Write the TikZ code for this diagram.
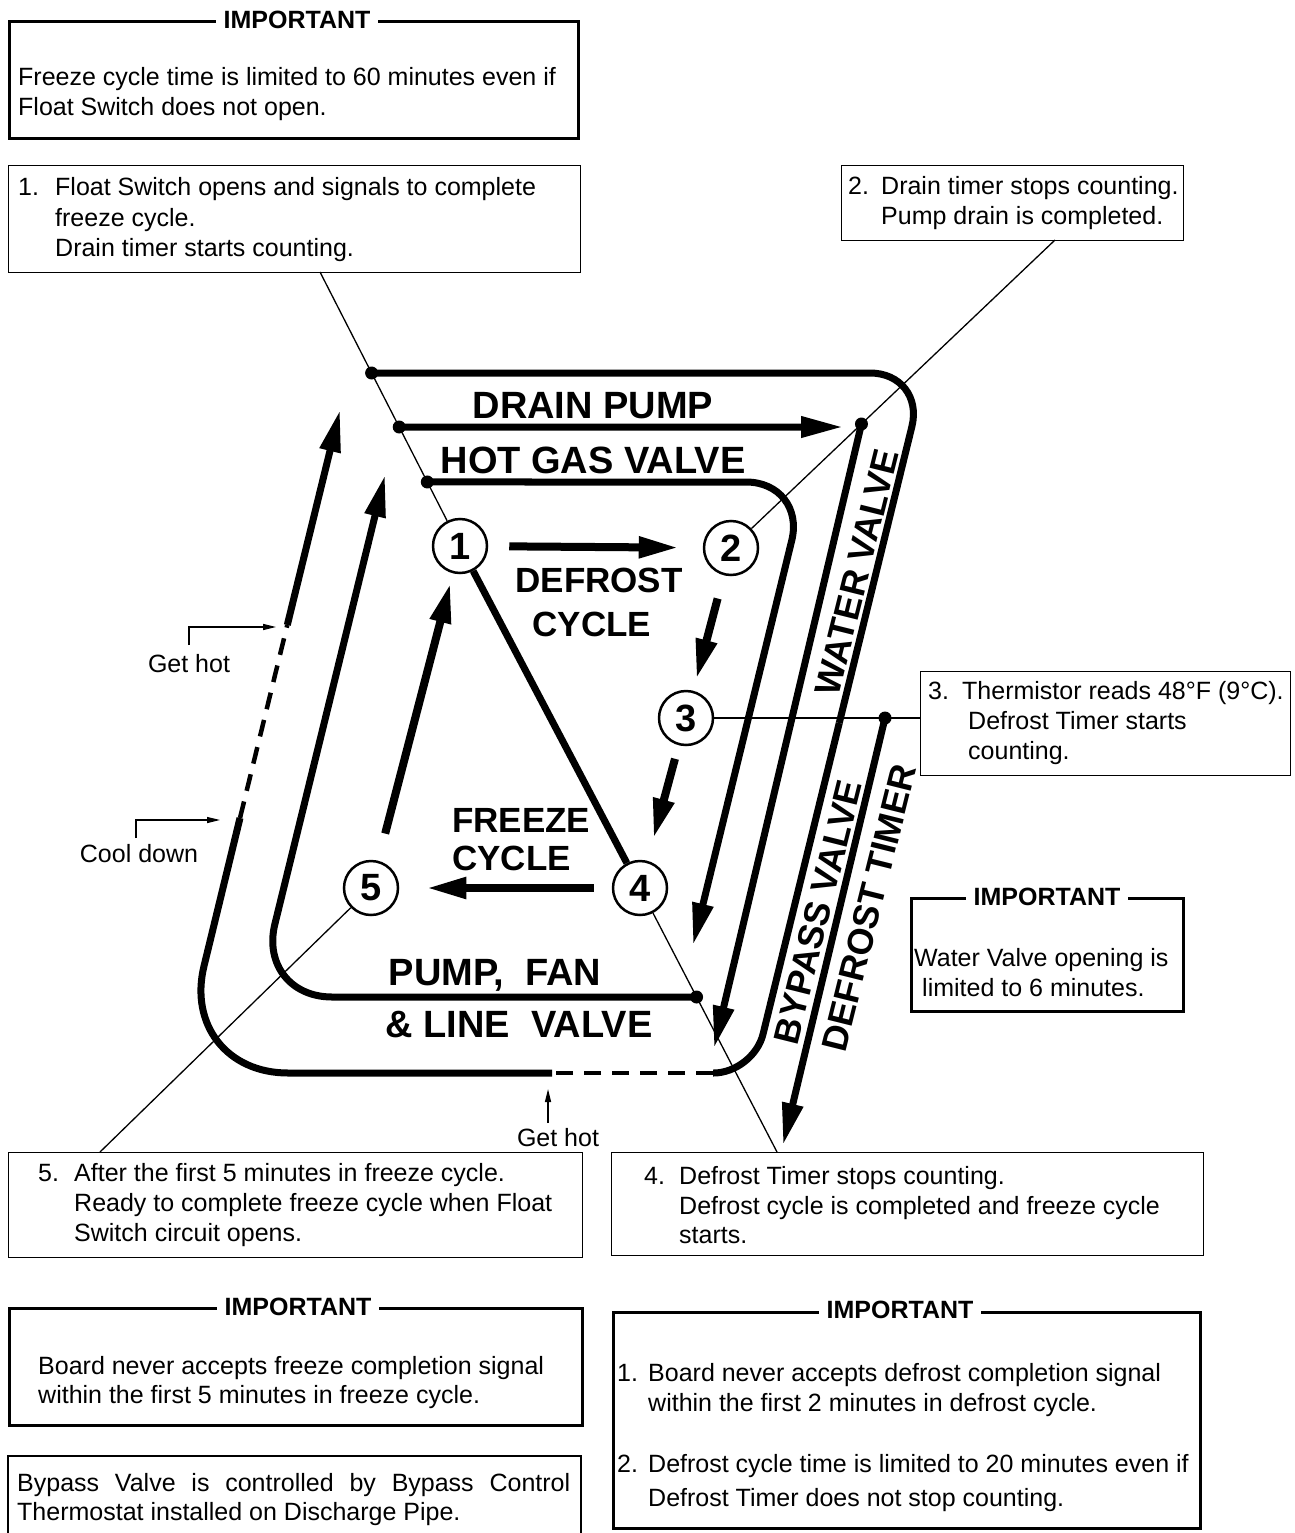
\documentclass[tikz,border=0pt]{standalone}
\usepackage{fontspec}
\setmainfont{Liberation Sans}
\usetikzlibrary{arrows.meta,calc}
\newcommand{\myline}[4]{\node[txt] (#1) at (#2,#3) {#4};}
\tikzset{
  txt/.style={font=\fontsize{25}{30}\selectfont, inner sep=0pt, anchor=base west},
  lbl/.style={font=\fontsize{38}{40}\selectfont\bfseries, inner sep=0pt},
  clbl/.style={font=\fontsize{35}{40}\selectfont\bfseries, inner sep=0pt},
  rlbl/.style={font=\fontsize{36}{40}\selectfont\bfseries, inner sep=0pt, rotate=76},
  imptitle/.style={font=\fontsize{25}{30}\selectfont\bfseries, fill=white, inner xsep=8pt, inner ysep=3pt},
  impbox/.style={draw, line width=3pt, inner sep=0pt, anchor=north west},
  thinbox/.style={draw, line width=1.4pt, inner sep=0pt, anchor=north west},
  num/.style={circle, draw, fill=white, line width=2.5pt, minimum size=54pt, inner sep=0pt, font=\fontsize{38}{38}\selectfont\bfseries},
  bigarrow/.style={line width=8pt, -{Triangle[length=40pt,width=20pt]}},
  looparrow/.style={line width=7pt, -{Triangle[length=42pt,width=20pt]}},
  loopline/.style={line width=7pt},
  dashedloop/.style={line width=4.5pt, dash pattern=on 17pt off 11pt},
  leader/.style={line width=1.3pt},
  thinarrow/.style={line width=1.3pt, -{Triangle[length=13pt,width=6pt]}},
  bigdot/.style={circle, fill, inner sep=0pt, minimum size=13pt},
}
\begin{document}
\begin{tikzpicture}[x=1pt,y=-1pt]
\useasboundingbox (0,0) rectangle (1294,1533);

% ---------- boxes ----------
\node[impbox, minimum width=569pt, minimum height=117pt] (impT) at (8,20) {};
\node[imptitle] (impTt) at (297,20) {IMPORTANT};
\myline{tT1}{18}{86}{Freeze cycle time is limited to 60 minutes even if}
\myline{tT2}{18}{116}{Float Switch does not open.}

\node[thinbox, minimum width=572pt, minimum height=107pt] (b1) at (8,165) {};
\myline{n1}{18}{196}{1.}
\myline{t1a}{55}{196}{Float Switch opens and signals to complete}
\myline{t1b}{55}{226}{freeze cycle.}
\myline{t1c}{55}{256}{Drain timer starts counting.}

\node[thinbox, minimum width=342pt, minimum height=75pt] (b2) at (841,165) {};
\myline{n2}{848}{194}{2.}
\myline{t2a}{881}{194}{Drain timer stops counting.}
\myline{t2b}{881}{224}{Pump drain is completed.}

\node[thinbox, minimum width=370pt, minimum height=104pt] (b3) at (920,671) {};
\myline{n3}{928}{699}{3.}
\myline{t3a}{962}{699}{Thermistor reads 48°F (9°C).}
\myline{t3b}{968}{729}{Defrost Timer starts}
\myline{t3c}{968}{759}{counting.}

\node[impbox, line width=2.5pt, minimum width=272pt, minimum height=113pt] (impR) at (910,897) {};
\node[imptitle] (impRt) at (1047,897) {IMPORTANT};
\myline{tR1}{914}{966}{Water Valve opening is}
\myline{tR2}{922}{996}{limited to 6 minutes.}

\node[thinbox, minimum width=574pt, minimum height=105pt] (b5) at (8,1152) {};
\myline{n5}{38}{1181}{5.}
\myline{t5a}{74}{1181}{After the first 5 minutes in freeze cycle.}
\myline{t5b}{74}{1211}{Ready to complete freeze cycle when Float}
\myline{t5c}{74}{1241}{Switch circuit opens.}

\node[thinbox, minimum width=592pt, minimum height=103pt] (b4) at (611,1152) {};
\myline{n4}{644}{1184}{4.}
\myline{t4a}{679}{1184}{Defrost Timer stops counting.}
\myline{t4b}{679}{1214}{Defrost cycle is completed and freeze cycle}
\myline{t4c}{679}{1243}{starts.}

\node[impbox, minimum width=573pt, minimum height=117pt] (impBL) at (8,1307) {};
\node[imptitle] (impBLt) at (298,1307) {IMPORTANT};
\myline{tBL1}{38}{1374}{Board never accepts freeze completion signal}
\myline{tBL2}{38}{1403}{within the first 5 minutes in freeze cycle.}

\node[impbox, minimum width=587pt, minimum height=216pt] (impBR) at (612,1311) {};
\node[imptitle] (impBRt) at (900,1310) {IMPORTANT};
\myline{nBR1}{617}{1381}{1.}
\myline{tBR1a}{648}{1381}{Board never accepts defrost completion signal}
\myline{tBR1b}{648}{1411}{within the first 2 minutes in defrost cycle.}
\myline{nBR2}{617}{1472}{2.}
\myline{tBR2a}{648}{1472}{Defrost cycle time is limited to 20 minutes even if}
\myline{tBR2b}{648}{1506}{Defrost Timer does not stop counting.}

\draw[line width=1.4pt] (8,1540) -- (8,1456) -- (581,1456) -- (581,1540);
\myline{tBy1}{17}{1491}{\makebox[553pt][s]{Bypass Valve is controlled by Bypass Control}}
\myline{tBy2}{17}{1520}{Thermostat installed on Discharge Pipe.}

% ---------- circles ----------
\node[num] (c1) at (460,546) {1};
\node[num] (c2) at (731,548) {2};
\node[num] (c3) at (686,718) {3};
\node[num] (c4) at (640,888) {4};
\node[num] (c5) at (371,888) {5};

% ---------- leader lines ----------
\coordinate (l1) at (320,272);
\coordinate (l2) at (1055,240);
\coordinate (l4) at (777,1152);
\coordinate (l5) at (100,1152);
\draw[leader] (l1) -- (c1);
\draw[leader] (l2) -- (c2);
\draw[leader] (c3 -| b3.west) -- (c3);
\draw[leader] (l4) -- (c4);
\draw[leader] (l5) -- (c5);

\coordinate (dO) at ($(l1)!0.3686!(c1)$);
\coordinate (dD) at ($(l1)!0.5657!(c1)$);
\coordinate (dH) at ($(l1)!0.7664!(c1)$);
\coordinate (dW) at ($(l2)!0.5974!(c2)$);
\coordinate (dP) at ($(l4)!0.5871!(c4)$);
\coordinate (dT) at (885,718);

% ---------- outer loop ----------
\coordinate (oTR) at (925,373);
\coordinate (oR) at (839.25,723);
\coordinate (oBR) at (753.5,1073);
\coordinate (oBd) at (713,1073);
\coordinate (oBs) at (552,1073);
\coordinate (oBL) at (178,1073);
\coordinate (oCool) at (240,818);
\coordinate (oHot) at (287.3,625);
\coordinate (oTip) at (340,410);
\draw[loopline, rounded corners=55pt] (dO) -- (oTR) -- (oR);
\draw[loopline, rounded corners=40pt] (oR) -- (oBR) -- (oBd);
\draw[dashedloop] (oBd) -- (oBs);
\draw[loopline, rounded corners=110pt] (oBs) -- (oBL) -- (oCool);
\draw[dashedloop] (oCool) -- (oHot);
\draw[looparrow] (oHot) -- (oTip);

% drain pump
\coordinate (dpTip) at (843,427);
\draw[looparrow] (dD) -- (dpTip);
% hot gas valve loop
\coordinate (hTR) at (806,482);
\coordinate (hTip) at (693,945);
\draw[looparrow, rounded corners=60pt] (dH) -- (hTR) -- (hTip);
% water valve
\coordinate (wvTip) at (714,1048);
\draw[looparrow] (dW) -- (wvTip);
% defrost timer
\coordinate (dtTip) at (783,1145);
\draw[looparrow] (dT) -- (dtTip);
% pump fan loop
\coordinate (pBL) at (257,997);
\coordinate (pTip) at (385,475);
\draw[looparrow, rounded corners=75pt] (dP) -- (pBL) -- (pTip);

% dots
\node[bigdot] (DO) at (dO) {};
\node[bigdot] (DD) at (dD) {};
\node[bigdot] (DH) at (dH) {};
\node[bigdot] (DW) at (dW) {};
\node[bigdot] (DP) at (dP) {};
\node[bigdot] (DT) at (dT) {};

% ---------- cycle arrows ----------
\draw[bigarrow, shorten <=21pt, shorten >=24pt] (c1) -- (c2);
\draw[bigarrow, shorten <=24pt, shorten >=12pt] (c2) -- (c3);
\draw[bigarrow, shorten <=14pt, shorten >=23pt] (c3) -- (c4);
\draw[bigarrow, shorten <=18pt, shorten >=27pt] (c4) -- (c5);
\draw[bigarrow, shorten <=28pt, shorten >=10pt] (c5) -- (c1);
\draw[line width=7pt] (c1) -- (c4);

% ---------- labels ----------
\node[lbl] (lDP) at (593,406) {DRAIN PUMP};
\node[lbl] (lHG) at (593,460) {HOT GAS VALVE};
\node[clbl] (lDC1) at (599,580) {DEFROST};
\node[clbl] (lDC2) at (592,624) {CYCLE};
\node[clbl, anchor=west] (lFC1) at (452,820) {FREEZE};
\node[clbl, anchor=west] (lFC2) at (452,858) {CYCLE};
\node[lbl] (lPF1) at (495,975) {PUMP,\ \ FAN};
\node[lbl] (lPF2) at (519,1025) {\&\ LINE\ \ VALVE};
\node[rlbl] (lWV) at (857,572) {WATER VALVE};
\node[rlbl] (lBV) at (818,912) {BYPASS VALVE};
\node[rlbl] (lDT) at (869,908) {DEFROST TIMER};

% ---------- get hot / cool down ----------
\node[txt, anchor=base] (gh1) at (189,672) {Get hot};
\coordinate (gh1s) at (189,645);
\coordinate (gh1t) at (276,627);
\draw[thinarrow] (gh1s) |- (gh1t);
\node[txt, anchor=base] (cd) at (139,862) {Cool down};
\coordinate (cds) at (136,838);
\coordinate (cdt) at (220,820);
\draw[thinarrow] (cds) |- (cdt);
\node[txt, anchor=base] (gh2) at (558,1146) {Get hot};
\coordinate (gh2s) at (548,1123);
\coordinate (gh2t) at (548,1089);
\draw[thinarrow] (gh2s) -- (gh2t);
\end{tikzpicture}
\end{document}
